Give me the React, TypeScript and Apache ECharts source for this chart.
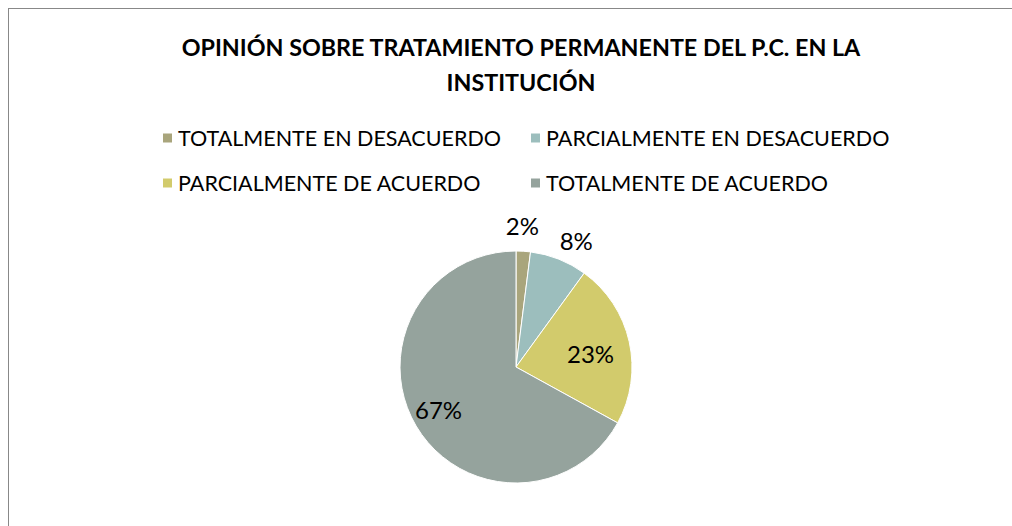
import React, { useEffect, useRef } from "react";
import * as echarts from "echarts";

const titleLines = ["OPINIÓN SOBRE TRATAMIENTO PERMANENTE DEL P.C. EN LA", "INSTITUCIÓN"];
const categories = [
  "TOTALMENTE EN DESACUERDO",
  "PARCIALMENTE EN DESACUERDO",
  "PARCIALMENTE DE ACUERDO",
  "TOTALMENTE DE ACUERDO",
];
const values = [2, 8, 23, 67];
const colors = ["#A9A57C", "#9CBEBD", "#D2CB6C", "#95A39D"];
const labelPositions = ["outside", "outside", "inside", "inside"];
const labelOffsets = [[-23, -18], [-7, -11], [15, 0], [-25, 11]];

const FONT = "Lato, 'Noto Sans', sans-serif";

export default function App() {
  const ref = useRef<HTMLDivElement>(null);
  useEffect(() => {
    if (!ref.current) return;
    const chart = echarts.init(ref.current, undefined, { renderer: "svg" });
    const data = categories.map((name, i) => ({
      name,
      value: values[i],
      itemStyle: { color: colors[i] },
      label: {
        position: labelPositions[i],
        offset: labelOffsets[i],
      },
    }));
    chart.setOption({
      animation: false,
      backgroundColor: "#ffffff",
      title: {
        text: titleLines.join("\n"),
        left: 507,
        top: 15,
        textAlign: "center",
        textStyle: {
          fontFamily: FONT,
          fontWeight: "bold",
          fontSize: 23.3,
          lineHeight: 35,
          color: "#000000",
        },
      },
      legend: [
        {
          data: [categories[0], categories[2]],
          orient: "vertical",
          left: 147,
          top: 113,
          itemWidth: 11,
          itemHeight: 11,
          itemGap: 23,
          icon: "rect",
          textStyle: { fontFamily: FONT, fontSize: 21.5, color: "#000000" },
        },
        {
          data: [categories[1], categories[3]],
          orient: "vertical",
          left: 515,
          top: 113,
          itemWidth: 11,
          itemHeight: 11,
          itemGap: 23,
          icon: "rect",
          textStyle: { fontFamily: FONT, fontSize: 21.5, color: "#000000" },
        },
      ],
      series: [
        {
          type: "pie",
          center: [507, 358],
          radius: 116,
          startAngle: 90,
          clockwise: true,
          avoidLabelOverlap: false,
          data,
          label: {
            show: true,
            formatter: "{d}%",
            fontFamily: FONT,
            fontSize: 24,
            color: "#000000",
          },
          labelLine: { show: false, length: 8, length2: 0 },
          itemStyle: { borderColor: "#ffffff", borderWidth: 1 },
          emphasis: { disabled: true },
        },
      ],
    });
    return () => chart.dispose();
  }, []);
  return (
    <div style={{ position: "fixed", left: 0, top: 0, right: 0, bottom: 0, overflow: "hidden", background: "#fff" }}>
      <div
        ref={ref}
        style={{
          position: "absolute",
          left: 8,
          top: 8,
          width: 1004,
          height: 518,
          border: "1px solid #888888",
          background: "#fff",
        }}
      />
    </div>
  );
}
